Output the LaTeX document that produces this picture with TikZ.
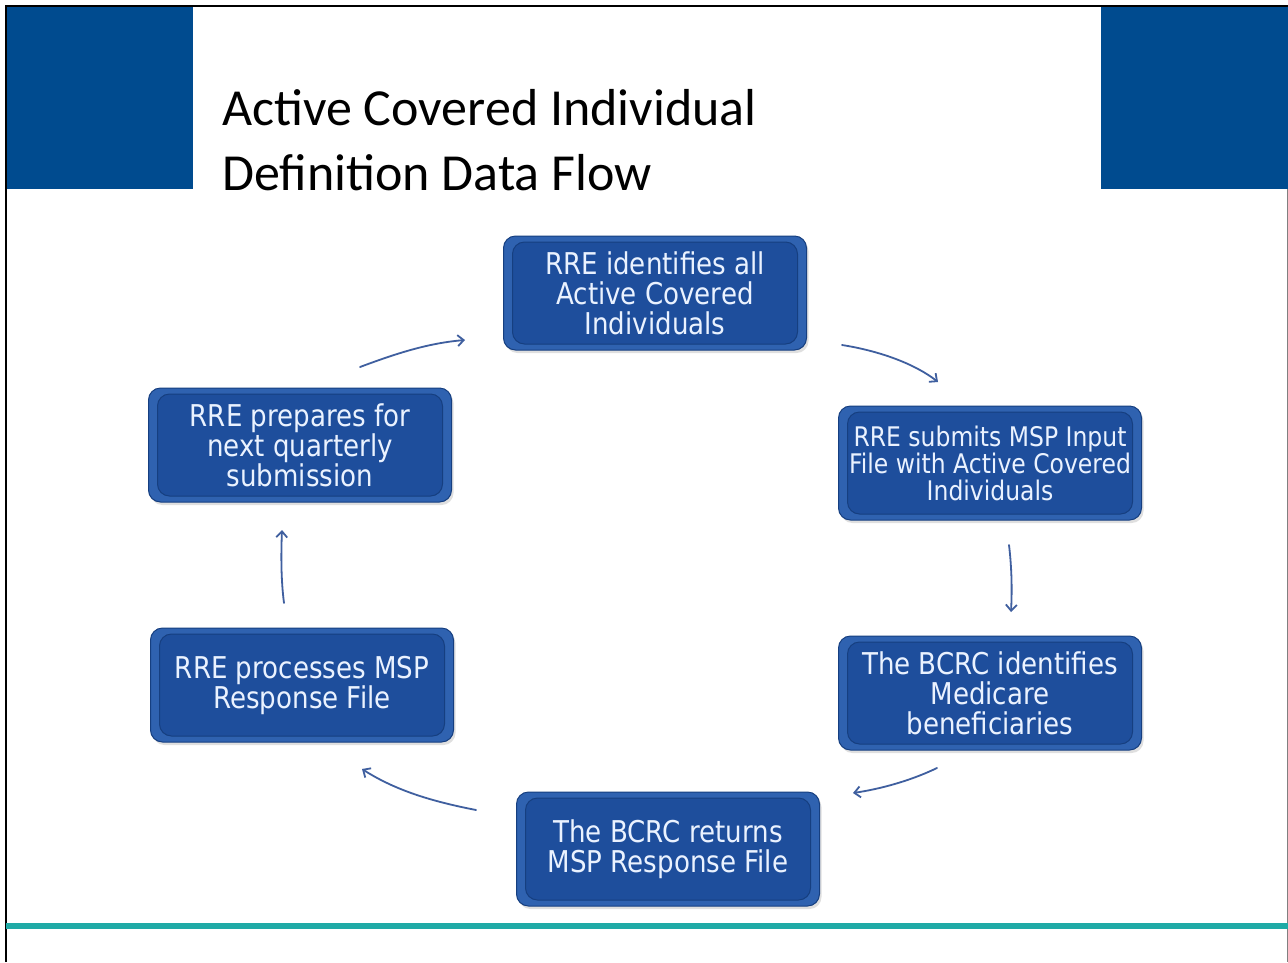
\documentclass[tikz,border=0pt]{standalone}
\usepackage{fontspec}
\setmainfont{Carlito}
\newfontfamily\boxfont[FakeStretch=0.87]{DejaVu Sans}
\usetikzlibrary{arrows.meta,shadows}
\definecolor{hdrblue}{HTML}{004B8F}
\definecolor{rim}{HTML}{2F62B0}
\definecolor{boxfill}{HTML}{1E4E9C}
\definecolor{boxedge}{HTML}{163F80}
\definecolor{boxtext}{HTML}{EAF2FF}
\definecolor{arrowblue}{HTML}{3F5F9F}
\definecolor{tealline}{HTML}{1FAAA6}
\begin{document}
\begin{tikzpicture}[x=1pt,y=-1pt,
  stepbox/.style={draw=boxedge, line width=1pt, rounded corners=12pt, fill=rim,
    minimum width=303pt, minimum height=114pt, inner sep=0pt, text=boxtext,
    align=center, font=\boxfont\fontsize{30}{30}\selectfont,
    drop shadow={opacity=0.25, shadow xshift=2pt, shadow yshift=-3pt},
    path picture={\fill[boxfill,draw=boxedge,line width=1pt]
      ([shift={(9pt,6pt)}]path picture bounding box.south west) rectangle
      ([shift={(-9pt,-6pt)}]path picture bounding box.north east);}},
  flow/.style={draw=arrowblue, line width=1.8pt, line cap=round,
    -{Straight Barb[length=6pt,width=11pt]}},
  titlefont/.style={font=\fontsize{52}{52}\selectfont, anchor=base west, inner sep=0pt}]
\useasboundingbox (0,0) rectangle (1288,962);
\fill[white] (0,0) rectangle (1288,962);
% header blocks
\fill[hdrblue] (6,6) rectangle (193,189);
\fill[hdrblue] (1101,6) rectangle (1288,189);
\draw[black, line width=1.5pt] (6,962) -- (6,6) -- (1288,6);
\draw[gray, line width=1pt] (1287,189) -- (1287,962);
% teal rule
\draw[tealline, line width=6pt] (6,926) -- (1288,926);
% title
\node[titlefont] (t1) at (222,125) {Active Covered Individual};
\node[titlefont] (t2) at (222,190) {Definition Data Flow};
% boxes
\node[stepbox] (top) at (655,293) {RRE identifies all\\Active Covered\\Individuals};
\node[stepbox, font=\boxfont\fontsize{27}{27}\selectfont] (r1) at (990,463) {RRE submits MSP Input\\File with Active Covered\\Individuals};
\node[stepbox] (r2) at (990,693) {The BCRC identifies\\Medicare\\beneficiaries};
\node[stepbox] (bot) at (668,849) {The BCRC returns\\MSP Response File};
\node[stepbox] (l2) at (302,685) {RRE processes MSP\\Response File};
\node[stepbox] (l1) at (300,445) {RRE prepares for\\next quarterly\\submission};
% arrow end points
\coordinate (a1s) at (360,367); \coordinate (a1e) at (465,340);
\coordinate (a2s) at (842,345); \coordinate (a2e) at (938,382);
\coordinate (a3s) at (1009,545); \coordinate (a3e) at (1011,612);
\coordinate (a4s) at (937,768); \coordinate (a4e) at (853,793);
\coordinate (a5s) at (476,810); \coordinate (a5e) at (362,769);
\coordinate (a6s) at (284,603); \coordinate (a6e) at (282,530);
\draw[flow] (a1s) .. controls (400,352) and (430,343) .. (a1e);
\draw[flow] (a2s) .. controls (880,351) and (915,364) .. (a2e);
\draw[flow] (a3s) .. controls (1012,570) and (1012,592) .. (a3e);
\draw[flow] (a4s) .. controls (910,781) and (880,789) .. (a4e);
\draw[flow] (a5s) .. controls (430,801) and (395,790) .. (a5e);
\draw[flow] (a6s) .. controls (281,580) and (281,555) .. (a6e);
\end{tikzpicture}
\end{document}
